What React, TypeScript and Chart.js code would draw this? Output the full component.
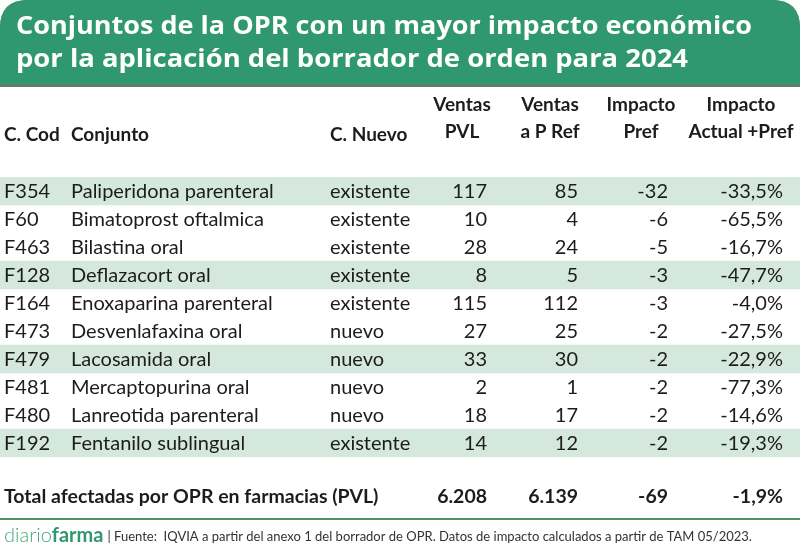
import React, { useEffect, useRef } from "react";
import { Chart, registerables } from "chart.js";
Chart.register(...registerables);

const titleLines = [
  "Conjuntos de la OPR con un mayor impacto económico",
  "por la aplicación del borrador de orden para 2024",
];
const headerCod = "C. Cod";
const headerConjunto = "Conjunto";
const headerNuevo = "C. Nuevo";
const headerNumeric = [
  ["Ventas", "PVL"],
  ["Ventas", "a P Ref"],
  ["Impacto", "Pref"],
  ["Impacto", "Actual +Pref"],
];
const codes = ["F354", "F60", "F463", "F128", "F164", "F473", "F479", "F481", "F480", "F192"];
const conjuntos = [
  "Paliperidona parenteral",
  "Bimatoprost oftalmica",
  "Bilastina oral",
  "Deflazacort oral",
  "Enoxaparina parenteral",
  "Desvenlafaxina oral",
  "Lacosamida oral",
  "Mercaptopurina oral",
  "Lanreotida parenteral",
  "Fentanilo sublingual",
];
const cNuevo = ["existente", "existente", "existente", "existente", "existente", "nuevo", "nuevo", "nuevo", "nuevo", "existente"];
const ventasPVL = [117, 10, 28, 8, 115, 27, 33, 2, 18, 14];
const ventasPRef = [85, 4, 24, 5, 112, 25, 30, 1, 17, 12];
const impactoPref = [-32, -6, -5, -3, -3, -2, -2, -2, -2, -2];
const impactoActualPct = [-33.5, -65.5, -16.7, -47.7, -4.0, -27.5, -22.9, -77.3, -14.6, -19.3];
const shadedRows = [true, false, false, true, false, false, true, false, false, true];
const totalLabel = "Total afectadas por OPR en farmacias (PVL)";
const totalPVL = 6208;
const totalPRef = 6139;
const totalImpacto = -69;
const totalPct = -1.9;
const brandA = "diario";
const brandB = "farma";
const sourceText = "| Fuente:  IQVIA a partir del anexo 1 del borrador de OPR. Datos de impacto calculados a partir de TAM 05/2023.";

const GREEN = "#2f9870";
const STRIPE = "#d4e8de";
const TEXT = "#1c1c1c";
const FONT = "Lato, 'Open Sans', sans-serif";
const TITLE_FONT = "'Open Sans', Lato, sans-serif";

function fmtInt(n: number): string {
  const s = Math.abs(n).toString().replace(/\B(?=(\d{3})+(?!\d))/g, ".");
  return (n < 0 ? "-" : "") + s;
}
function fmtPct(n: number): string {
  return n.toFixed(1).replace(".", ",") + "%";
}

// column anchors in x-scale units (scale spans 0..800)
const COL_COD = 4;
const COL_NAME = 71;
const COL_NUEVO = 330;
const COL_RIGHT = [487, 578, 668, 783];
const COL_HEAD_CENTER = [462, 550, 641, 741];

function fitText(ctx: CanvasRenderingContext2D, text: string, x: number, y: number, width: number) {
  const m = ctx.measureText(text).width;
  const s = width / m;
  ctx.save();
  ctx.translate(x, y);
  ctx.scale(s, 1);
  ctx.fillText(text, 0, 0);
  ctx.restore();
}

const tablePlugin = {
  id: "tablePlugin",
  beforeDraw(chart: any) {
    const ctx = chart.ctx as CanvasRenderingContext2D;
    const w = chart.width;
    const h = chart.height;
    ctx.save();
    ctx.fillStyle = "#ffffff";
    ctx.fillRect(0, 0, w, h);
    // title band with rounded top corners
    const r = 28;
    ctx.fillStyle = "#5f7f6a";
    ctx.beginPath();
    ctx.moveTo(0, 87);
    ctx.lineTo(0, r);
    ctx.quadraticCurveTo(0, 0, r, 0);
    ctx.lineTo(w - r, 0);
    ctx.quadraticCurveTo(w, 0, w, r);
    ctx.lineTo(w, 87);
    ctx.closePath();
    ctx.fill();
    ctx.fillStyle = GREEN;
    ctx.beginPath();
    ctx.moveTo(0, 84);
    ctx.lineTo(0, r);
    ctx.quadraticCurveTo(0, 0, r, 0);
    ctx.lineTo(w - r, 0);
    ctx.quadraticCurveTo(w, 0, w, r);
    ctx.lineTo(w, 84);
    ctx.closePath();
    ctx.fill();
    ctx.fillStyle = "#ffffff";
    ctx.font = `bold 25px ${TITLE_FONT}`;
    ctx.textBaseline = "alphabetic";
    ctx.textAlign = "left";
    fitText(ctx, titleLines[0], 16, 34, 736);
    fitText(ctx, titleLines[1], 16, 67, 672);

    // header
    const x = chart.scales.x;
    ctx.fillStyle = TEXT;
    ctx.font = `bold 19px ${FONT}`;
    ctx.textBaseline = "middle";
    ctx.textAlign = "left";
    ctx.fillText(headerCod, x.getPixelForValue(COL_COD), 135);
    ctx.fillText(headerConjunto, x.getPixelForValue(COL_NAME), 135);
    ctx.fillText(headerNuevo, x.getPixelForValue(COL_NUEVO), 135);
    ctx.textAlign = "center";
    headerNumeric.forEach((lines, i) => {
      const cx = x.getPixelForValue(COL_HEAD_CENTER[i]);
      ctx.fillText(lines[0], cx, 105);
      ctx.fillText(lines[1], cx, 132);
    });
    ctx.restore();
  },
  afterDatasetsDraw(chart: any) {
    const ctx = chart.ctx as CanvasRenderingContext2D;
    const x = chart.scales.x;
    const y = chart.scales.y;
    ctx.save();
    ctx.fillStyle = TEXT;
    ctx.textBaseline = "middle";
    ctx.font = `20px ${FONT}`;
    codes.forEach((code, i) => {
      const cy = y.getPixelForValue(i) + 1;
      ctx.textAlign = "left";
      ctx.fillText(code, x.getPixelForValue(COL_COD), cy);
      ctx.fillText(conjuntos[i], x.getPixelForValue(COL_NAME), cy);
      ctx.fillText(cNuevo[i], x.getPixelForValue(COL_NUEVO), cy);
      ctx.textAlign = "right";
      ctx.fillText(fmtInt(ventasPVL[i]), x.getPixelForValue(COL_RIGHT[0]), cy);
      ctx.fillText(fmtInt(ventasPRef[i]), x.getPixelForValue(COL_RIGHT[1]), cy);
      ctx.fillText(fmtInt(impactoPref[i]), x.getPixelForValue(COL_RIGHT[2]), cy);
      ctx.fillText(fmtPct(impactoActualPct[i]), x.getPixelForValue(COL_RIGHT[3]), cy);
    });

    // total row
    const ty = 497;
    ctx.font = `bold 19.5px ${FONT}`;
    ctx.textAlign = "left";
    ctx.fillText(totalLabel, x.getPixelForValue(COL_COD), ty);
    ctx.textAlign = "right";
    ctx.fillText(fmtInt(totalPVL), x.getPixelForValue(COL_RIGHT[0]), ty);
    ctx.fillText(fmtInt(totalPRef), x.getPixelForValue(COL_RIGHT[1]), ty);
    ctx.fillText(fmtInt(totalImpacto), x.getPixelForValue(COL_RIGHT[2]), ty);
    ctx.fillText(fmtPct(totalPct), x.getPixelForValue(COL_RIGHT[3]), ty);

    // separator line
    ctx.fillStyle = "#4f8f6c";
    ctx.fillRect(0, 518, chart.width, 2);

    // footer
    let fx = 4;
    const fy = 536;
    ctx.textAlign = "left";
    ctx.font = `300 20px ${FONT}`;
    ctx.fillStyle = "#45a77b";
    ctx.fillText(brandA, fx, fy);
    fx += ctx.measureText(brandA).width;
    ctx.font = `bold 20px ${FONT}`;
    ctx.fillStyle = GREEN;
    ctx.fillText(brandB, fx, fy);
    fx += ctx.measureText(brandB).width + 4;
    ctx.font = `13px ${FONT}`;
    ctx.fillStyle = "#333333";
    ctx.fillText(sourceText, fx, fy + 1);
    ctx.restore();
  },
};

export default function App() {
  const ref = useRef<HTMLCanvasElement>(null);
  useEffect(() => {
    document.body.style.margin = "0";
    const chart = new Chart(ref.current!, {
      type: "bar",
      data: {
        labels: codes,
        datasets: [
          {
            data: codes.map(() => [0, 800]) as any,
            backgroundColor: shadedRows.map((s) => (s ? STRIPE : "rgba(0,0,0,0)")),
            borderWidth: 0,
            categoryPercentage: 1,
            barPercentage: 1,
          },
        ],
      },
      options: {
        responsive: false,
        animation: false,
        indexAxis: "y",
        layout: { padding: { top: 177, bottom: 93, left: 0, right: 0 } },
        scales: {
          x: { type: "linear", min: 0, max: 800, display: false },
          y: { type: "category", display: false, offset: true },
        },
        plugins: { legend: { display: false }, tooltip: { enabled: false }, title: { display: false } },
      },
      plugins: [tablePlugin],
    });
    return () => chart.destroy();
  }, []);
  return (
    <div style={{ width: 800, height: 550 }}>
      <canvas ref={ref} width={800} height={550} />
    </div>
  );
}
